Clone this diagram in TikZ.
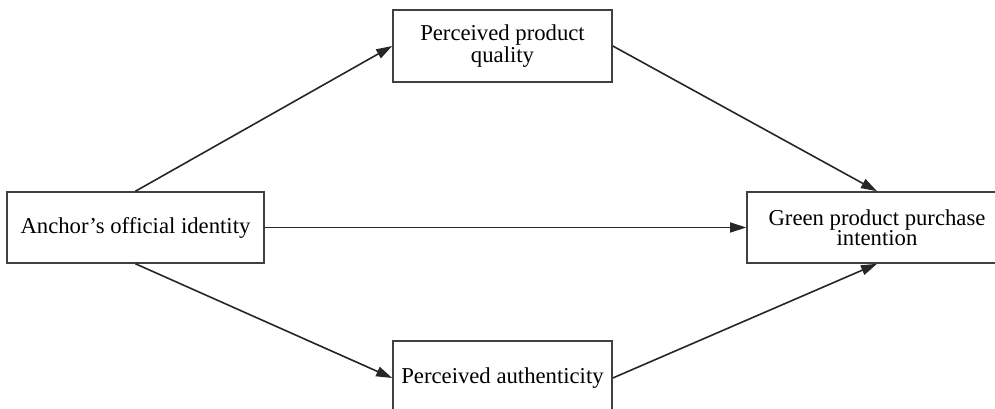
\documentclass[tikz,border=0pt]{standalone}
\usepackage{fontspec}
\setmainfont{Liberation Serif}
\usetikzlibrary{arrows.meta}

\tikzset{
	factor/.style={rectangle,draw=black!75,line width=1.6pt,align=center,inner sep=0pt,font=\fontsize{22.7}{20}\selectfont},
	link/.style={line width=1.6pt,draw=black!85,-{Triangle[length=16pt,width=10pt]}}
}

\begin{document}
\begin{tikzpicture}[x=1pt,y=-1pt]
		\clip (0, 0) rectangle (995, 409);
		\node[factor,minimum width=257pt,minimum height=71pt] (anchor) at (135.5, 227.5) {Anchor's official identity};
		\node[factor,minimum width=219pt,minimum height=72pt] (quality) at (502.5, 46) {Perceived product\\quality};
		\node[factor,minimum width=219pt,minimum height=74pt] (authenticity) at (502.5, 378) {Perceived authenticity};
		\node[factor,minimum width=260pt,minimum height=71pt] (intention) at (877, 227.5) {Green product purchase\\intention};

		\draw[link] (anchor.north) -- (quality.west);
		\draw[link] (quality.east) -- (intention.north);
		\draw[link] (anchor) -- (intention);
		\draw[link] (anchor.south) -- (authenticity.west);
		\draw[link] (authenticity.east) -- (intention.south);
\end{tikzpicture}
\end{document}
